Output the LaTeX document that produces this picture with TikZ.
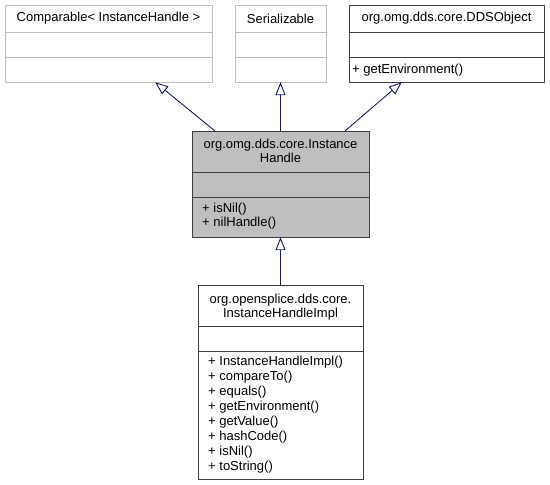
\documentclass[tikz,border=0pt]{standalone}
\usepackage{fontspec}
\setmainfont{Liberation Sans}
\usetikzlibrary{arrows.meta}
\definecolor{lgray}{HTML}{BFBFBF}
\definecolor{dgray}{HTML}{404040}
\definecolor{fillgray}{HTML}{BFBFBF}
\definecolor{navy}{HTML}{191970}
\begin{document}
\begin{tikzpicture}[x=1pt,y=-1pt,
  boxlight/.style={draw=lgray,line width=1pt,fill=white},
  boxdark/.style={draw=dgray,line width=1pt,fill=white},
  boxgray/.style={draw=dgray,line width=1pt,fill=fillgray},
  sep/.style={line width=1pt},
  txt/.style={inner sep=0pt,font=\fontsize{13}{14.5}\selectfont},
  inh/.style={draw=navy,line width=0.9pt,-{Triangle[open,length=13pt,width=10pt,fill=white]}}]
\useasboundingbox (0,0) rectangle (550,485);
% boxes
\draw[boxlight] (5,5) rectangle (212,82);
\node[inner sep=0pt,minimum width=207pt,minimum height=77pt] (cmp) at (108.5,43.5) {};
\draw[lgray,sep] (5,32) -- (212,32) (5,57) -- (212,57);
\node[txt] (cmpt) at (108.5,18.5) {Comparable< InstanceHandle >};

\draw[boxlight] (235,5) rectangle (326,82);
\node[inner sep=0pt,minimum width=91pt,minimum height=77pt] (ser) at (280.5,43.5) {};
\draw[lgray,sep] (235,32) -- (326,32) (235,57) -- (326,57);
\node[txt] (sert) at (280.5,18.5) {Serializable};

\draw[boxdark] (349,5) rectangle (544,82);
\node[inner sep=0pt,minimum width=195pt,minimum height=77pt] (dds) at (446.5,43.5) {};
\draw[dgray,sep] (349,32) -- (544,32) (349,57) -- (544,57);
\node[txt] (ddst) at (446.5,18.5) {org.omg.dds.core.DDSObject};
\node[txt,anchor=west] (ddsm) at (352,70) {+ getEnvironment()};

\draw[boxgray] (192,131) rectangle (369,237);
\node[inner sep=0pt,minimum width=177pt,minimum height=106pt] (ih) at (280.5,184) {};
\draw[dgray,sep] (192,172) -- (369,172) (192,197) -- (369,197);
\node[txt,align=center,font=\fontsize{13}{14}\selectfont] (iht) at (280.5,151) {org.omg.dds.core.Instance\\Handle};
\node[txt,align=left,anchor=west,font=\fontsize{13}{14}\selectfont] (ihm) at (202,216) {+ isNil()\\+ nilHandle()};

\draw[boxdark] (198,285) rectangle (363,479);
\node[inner sep=0pt,minimum width=165pt,minimum height=194pt] (impl) at (280.5,382) {};
\draw[dgray,sep] (198,326) -- (363,326) (198,351) -- (363,351);
\node[txt,align=center,font=\fontsize{13}{14}\selectfont] (implt) at (280.5,307.5) {org.opensplice.dds.core.\\InstanceHandleImpl};
\node[txt,align=left,anchor=west,font=\fontsize{13}{14.9}\selectfont] (implm) at (208,414.5) {+ InstanceHandleImpl()\\+ compareTo()\\+ equals()\\+ getEnvironment()\\+ getValue()\\+ hashCode()\\+ isNil()\\+ toString()};

% connectors
\draw[inh] ([xshift=23pt]ih.north west) -- ([xshift=-57pt]cmp.south east);
\draw[inh] (ih.north) -- (ser.south);
\draw[inh] ([xshift=-24pt]ih.north east) -- ([xshift=53pt]dds.south west);
\draw[inh] (impl.north) -- (ih.south);
\end{tikzpicture}
\end{document}
